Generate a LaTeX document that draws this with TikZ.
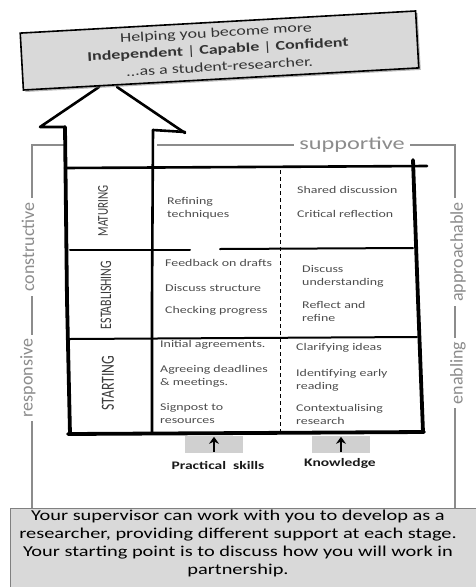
\documentclass[tikz,border=0pt]{standalone}
\usepackage{fontspec}
\setmainfont{Carlito}[FakeStretch=1.35]
\newfontfamily\condfont{Carlito}[FakeStretch=0.74]
\newfontfamily\plainfont{Carlito}
\usetikzlibrary{arrows.meta,shadows}
\definecolor{boxgray}{HTML}{D9D9D9}
\definecolor{cellgray}{HTML}{4D4D4D}
\definecolor{stagegray}{HTML}{3A3A3A}
\definecolor{bracketgray}{HTML}{8C8C8C}
\definecolor{tabgray}{HTML}{D0D0D0}
\begin{document}
\begin{tikzpicture}[x=1pt,y=-1pt,
  every node/.style={inner sep=0pt},
  bracket/.style={draw=bracketgray,line width=1.1pt},
  sidelabel/.style={rotate=90,fill=white,inner xsep=4pt,inner ysep=1pt,text=bracketgray,font=\plainfont\fontsize{18}{18}\selectfont},
  toplabel/.style={fill=white,inner xsep=5pt,inner ysep=1pt,text=bracketgray,font=\fontsize{18}{18}\selectfont},
  heavy/.style={line width=2.6pt,line cap=round,line join=round},
  heavier/.style={line width=3.8pt,line cap=round,line join=round},
  divider/.style={line width=2pt,line cap=round},
  midline/.style={line width=1pt,dash pattern=on 4pt off 3pt},
  stagelabel/.style={rotate=90,text=stagegray},
  goalline/.style={rotate=3.2,text=black!80,font=\fontsize{13.3}{14}\selectfont},
  cell/.style={anchor=west,align=left,text=cellgray,font=\fontsize{10.3}{13}\selectfont},
  tabbox/.style={fill=tabgray,minimum width=58pt,minimum height=17pt},
  uparrow/.style={-{Stealth[length=7pt,width=10pt]},line width=2.2pt,shorten <=1.5pt,shorten >=1pt},
  tablabel/.style={font=\bfseries\fontsize{11.5}{13}\selectfont,text=black!90}
]
\useasboundingbox (0,0) rectangle (475,587);

% side brackets
\draw[bracket] (67,145) -- (32,145) -- (32,508);
\draw[bracket] (157,145) -- (455,145) -- (455,508);
\node[toplabel] (supp) at (352,145) {supportive};
\node[sidelabel] (constr) at (28,247) {constructive};
\node[sidelabel] (resp) at (28,378) {responsive};
\node[sidelabel] (appr) at (458,252) {approachable};
\node[sidelabel] (enab) at (458,373) {enabling};

% big arrow (shaft becomes the stage column)
\fill[white] (65,168) -- (65,127) -- (40,127) -- (106,83) -- (185,132) -- (153,130) -- (153,168) -- cycle;
\draw[heavy] (65,127) -- (40,127) -- (99,87);
\draw[heavy] (117,87) -- (185,133);
\draw[heavy] (185,132) -- (153,130);

% goal box
\node[draw,line width=1.6pt,fill=boxgray,rotate=3.2,minimum width=396pt,minimum height=57pt,
      drop shadow={shadow xshift=2pt,shadow yshift=-2pt,fill=black!55}] (goal) at (219.5,50.5) {};
\node[goalline] (goal1) at (216,33.5) {Helping you become more};
\node[goalline] (goal2) at (218,50) {\textbf{Independent} | \textbf{Capable} | \textbf{Confident}};
\node[goalline] (goal3) at (219.5,66.5) {...as a student-researcher.};

% grid
\draw[heavy] (65,168) -- (427,166);
\draw[heavier] (65,127) -- (67,300) -- (70,434);
\draw[heavy] (153,130) -- (152,300) -- (152,433);
\draw[heavier] (413,160) -- (418,300) -- (423,432);
\draw[heavier] (68,434) -- (250,433) -- (424,432);
\draw[divider] (70,250) -- (190,250);
\draw[divider] (220,249) -- (413,248);
\draw[divider] (70,339) -- (417,337);
\draw[midline] (280,170) -- (280,432);

% stage labels
\node[stagelabel,font=\condfont\fontsize{15}{15}\selectfont] (mat) at (103,211) {MATURING};
\node[stagelabel,font=\condfont\fontsize{16}{16}\selectfont] (est) at (106,295) {ESTABLISHING};
\node[stagelabel,font=\condfont\fontsize{18.5}{18.5}\selectfont] (sta) at (108,383) {STARTING};

% maturing
\node[cell] (m1) at (167,208.5) {Refining\\techniques};
\node[cell] (m2) at (297,190) {Shared discussion};
\node[cell] (m3) at (297,214) {Critical reflection};
% establishing
\node[cell] (e1) at (165,263) {Feedback on drafts};
\node[cell] (e2) at (165,288) {Discuss structure};
\node[cell] (e3) at (165,311) {Checking progress};
\node[cell] (e4) at (302,276.5) {Discuss\\understanding};
\node[cell] (e5) at (302,311.5) {Reflect and\\refine};
% starting
\node[cell] (s1) at (160,345) {Initial agreements.};
\node[cell] (s2) at (160,376) {Agreeing deadlines\\\& meetings.};
\node[cell] (s3) at (160,413) {Signpost to\\resources};
\node[cell] (s4) at (296,348) {Clarifying ideas};
\node[cell] (s5) at (296,380) {Identifying early\\reading};
\node[cell] (s6) at (296,414.5) {Contextualising\\research};

% practical skills / knowledge
\node[tabbox] (psbox) at (214,444.5) {};
\node[tabbox] (knbox) at (341,444.5) {};
\draw[uparrow] (psbox.south) -- (psbox.north);
\draw[uparrow] (knbox.south) -- (knbox.north);
\node[tablabel] (ps) at (218,465) {Practical\ \ skills};
\node[tablabel] (kn) at (340,463) {Knowledge};

% bottom note
\node[draw=black!50,line width=1.2pt,fill=boxgray,anchor=north west,minimum width=475pt,minimum height=90pt] (note) at (10,508) {};
\node[align=center,text=black,font=\fontsize{15.1}{18}\selectfont] (notetext) at (238,543)
  {Your supervisor can work with you to develop as a\\ researcher, providing different support at each stage.\\ Your starting point is to discuss how you will work in\\ partnership.};
\end{tikzpicture}
\end{document}
